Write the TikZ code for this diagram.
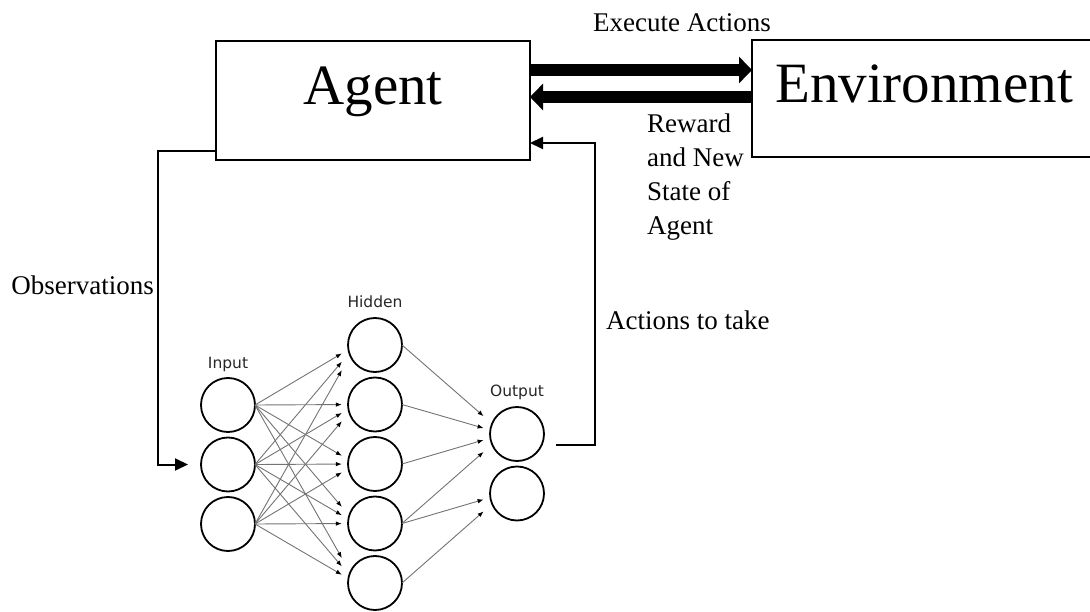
\documentclass[tikz,border=0pt]{standalone}
\usepackage{fontspec}
\setmainfont{Liberation Serif}
\newfontfamily\nnfont{DejaVu Sans}
\usepackage{tikz}
\usetikzlibrary{positioning, arrows.meta, calc}

\begin{document}
\begin{tikzpicture}[x=1pt, y=-1pt, node distance=5.5pt,
  block/.style={rectangle, draw=black, line width=2pt, inner sep=0pt, outer sep=0pt,
    font=\fontsize{57}{60}\selectfont, text height=48pt, text depth=40pt},
  neuron/.style={circle, draw=black, line width=1.8pt, minimum size=54pt,
    inner sep=0pt, outer sep=0pt},
  nnlabel/.style={font=\nnfont\fontsize{15.5}{18}\selectfont, text=black!85,
    inner sep=0pt, text depth=0pt},
  lbl/.style={font=\fontsize{27}{34}\selectfont, inner sep=0pt},
  bigarrow/.style={line width=12.7pt, -{Triangle[length=13pt, width=26pt]}},
  feed/.style={line width=2pt, -{Triangle[length=13pt, width=12pt]}},
  nnlink/.style={draw=black!55, line width=0.9pt,
    -{Latex[length=6pt, width=4.5pt, color=black]}}
]
  \useasboundingbox (0,0) rectangle (1090,612);

  \node[block, minimum width=314pt, minimum height=119pt] (agent) at (373,100.5) {Agent};
  \node[block, minimum width=344pt, minimum height=117pt, right=222pt of agent, yshift=2pt] (env) {Environment};

  \node[lbl, anchor=base west] (exec) at (593,32) {Execute Actions};
  \node[lbl, anchor=north west, align=left] (reward) at (647,114) {Reward\\and New\\State of\\Agent};
  \node[lbl, anchor=base east] (obs) at (154,295) {Observations};
  \node[lbl, anchor=base west] (acts) at (606,330) {Actions to take};

  % network
  \node[neuron] (i1) at (228,405) {};
  \node[neuron, below=of i1] (i2) {};
  \node[neuron, below=of i2] (i3) {};
  \node[neuron] (h1) at (375,345) {};
  \node[neuron, below=of h1] (h2) {};
  \node[neuron, below=of h2] (h3) {};
  \node[neuron, below=of h3] (h4) {};
  \node[neuron, below=of h4] (h5) {};
  \node[neuron] (o1) at (517,434) {};
  \node[neuron, below=of o1] (o2) {};
  \node[nnlabel, above=9pt of i1] (inlbl) {Input};
  \node[nnlabel, above=10pt of h1] (hidlbl) {Hidden};
  \node[nnlabel, above=10pt of o1] (outlbl) {Output};

  \draw[nnlink] (i1.east) -- ($(i1.east)!.86!([xshift=-19pt]h1.center)$);
  \draw[nnlink] (i1.east) -- ($(i1.east)!.86!([xshift=-19pt]h2.center)$);
  \draw[nnlink] (i1.east) -- ($(i1.east)!.86!([xshift=-19pt]h3.center)$);
  \draw[nnlink] (i1.east) -- ($(i1.east)!.86!([xshift=-19pt]h4.center)$);
  \draw[nnlink] (i1.east) -- ($(i1.east)!.86!([xshift=-19pt]h5.center)$);
  \draw[nnlink] (i2.east) -- ($(i2.east)!.86!([xshift=-19pt]h1.center)$);
  \draw[nnlink] (i2.east) -- ($(i2.east)!.86!([xshift=-19pt]h2.center)$);
  \draw[nnlink] (i2.east) -- ($(i2.east)!.86!([xshift=-19pt]h3.center)$);
  \draw[nnlink] (i2.east) -- ($(i2.east)!.86!([xshift=-19pt]h4.center)$);
  \draw[nnlink] (i2.east) -- ($(i2.east)!.86!([xshift=-19pt]h5.center)$);
  \draw[nnlink] (i3.east) -- ($(i3.east)!.86!([xshift=-19pt]h1.center)$);
  \draw[nnlink] (i3.east) -- ($(i3.east)!.86!([xshift=-19pt]h2.center)$);
  \draw[nnlink] (i3.east) -- ($(i3.east)!.86!([xshift=-19pt]h3.center)$);
  \draw[nnlink] (i3.east) -- ($(i3.east)!.86!([xshift=-19pt]h4.center)$);
  \draw[nnlink] (i3.east) -- ($(i3.east)!.86!([xshift=-19pt]h5.center)$);
  \draw[nnlink] (h1.east) -- ($(h1.east)!.8!([xshift=-13pt]o1.center)$);
  \draw[nnlink] (h2.east) -- ($(h2.east)!.8!([xshift=-13pt]o1.center)$);
  \draw[nnlink] (h3.east) -- ($(h3.east)!.8!([xshift=-13pt]o1.center)$);
  \draw[nnlink] (h4.east) -- ($(h4.east)!.8!([xshift=-13pt]o1.center)$);
  \draw[nnlink] (h4.east) -- ($(h4.east)!.8!([xshift=-13pt]o2.center)$);
  \draw[nnlink] (h5.east) -- ($(h5.east)!.8!([xshift=-13pt]o2.center)$);

  % loop
  \draw[bigarrow] ([yshift=30.5pt]agent.east) -- ([yshift=30.5pt]agent.east -| env.west);
  \draw[bigarrow] ([yshift=3.5pt]agent.east -| env.west) -- ([yshift=3.5pt]agent.east);
  \draw[feed] ([yshift=8.5pt]agent.south west) -- ++(-58,0) |- ([xshift=-13pt]i2.west);
  \draw[feed] ([xshift=12pt,yshift=-11pt]o1.east) -- ++(39,0) |- ([yshift=-42.5pt]agent.east);
\end{tikzpicture}
\end{document}
